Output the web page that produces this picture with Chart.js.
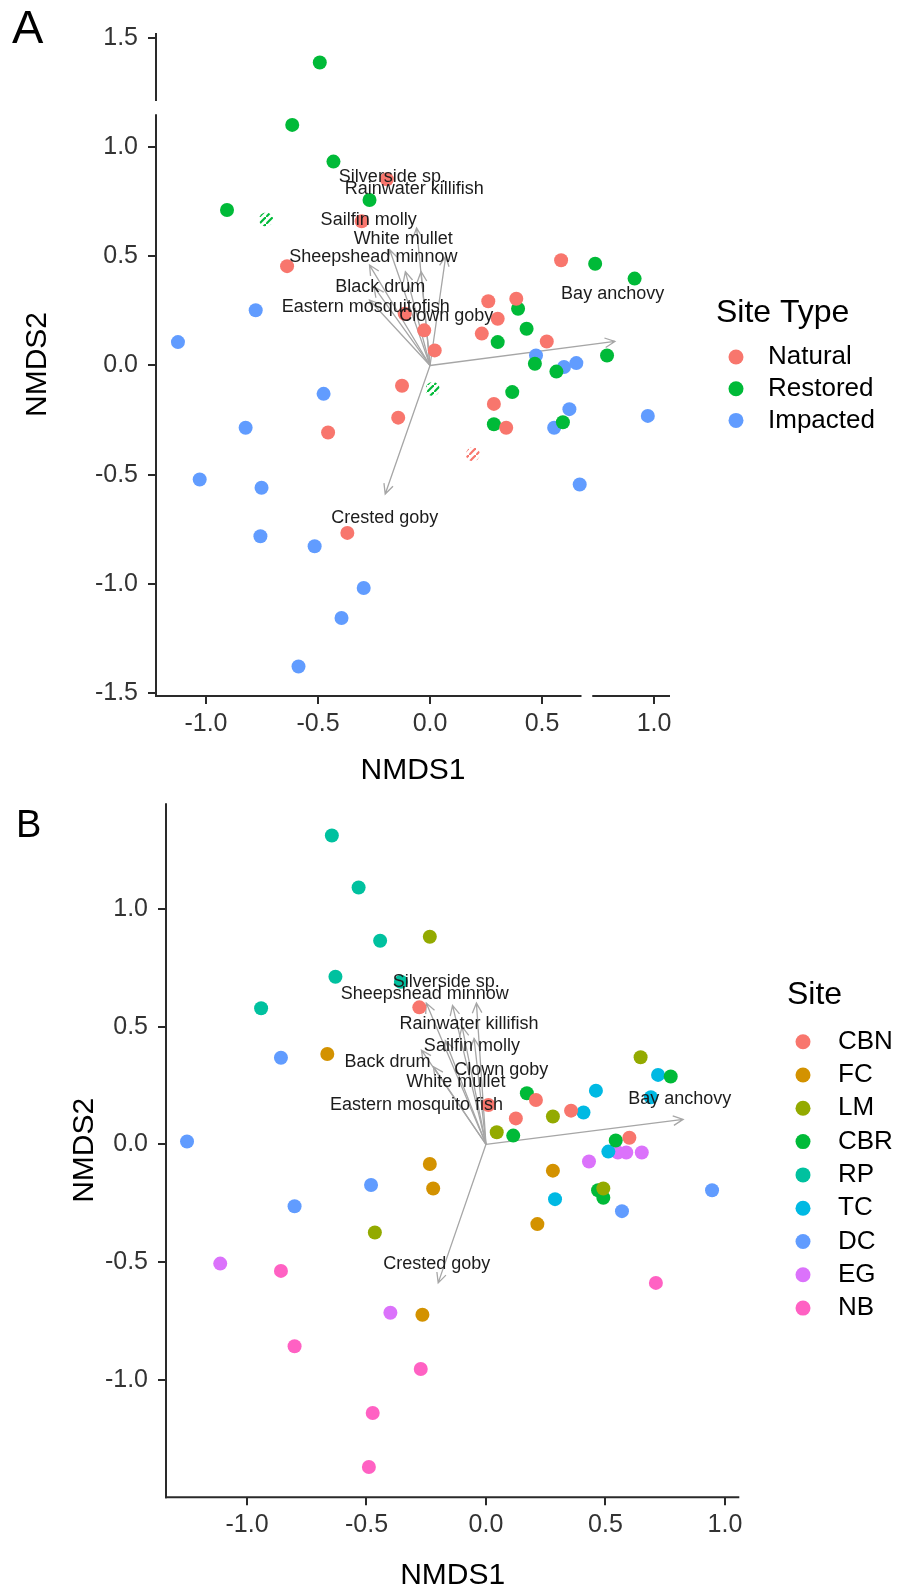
<!DOCTYPE html>
<html>
<head>
<meta charset="utf-8">
<script src="https://cdn.jsdelivr.net/npm/chart.js@4.4.1/dist/chart.umd.min.js"></script>
<style>
  html, body { margin: 0; padding: 0; background: #fff; }
  body { width: 908px; height: 1589px; position: relative; overflow: hidden; }
  canvas { position: absolute; left: 0; }
  #chartA { top: 0; }
  #chartB { top: 790px; }
</style>
</head>
<body>
<canvas id="chartA" width="908" height="790"></canvas>
<canvas id="chartB" width="908" height="799"></canvas>
<script>
// NMDS ordination of fish assemblages, two panels (A: site type, B: site)

const FONT = "'Liberation Sans', Arial, sans-serif";

// ---- Panel A: points by site type ----
const siteTypes = ['Natural', 'Restored', 'Impacted'];
const siteTypeColors = ['#F8766D', '#00BA38', '#619CFF'];

const naturalPts = [
  [-0.193, 0.853], [-0.305, 0.661], [-0.638, 0.455], [0.585, 0.482], [0.260, 0.294],
  [0.385, 0.306], [-0.113, 0.237], [0.302, 0.214], [-0.026, 0.161], [0.231, 0.146],
  [0.521, 0.110], [0.021, 0.069], [-0.125, -0.093], [0.285, -0.176], [-0.142, -0.239],
  [0.340, -0.285], [-0.455, -0.307], [0.191, -0.407], [-0.369, -0.767]
];
const restoredPts = [
  [-0.492, 1.388], [-0.615, 1.102], [-0.431, 0.934], [-0.270, 0.758], [-0.906, 0.712],
  [-0.732, 0.669], [0.737, 0.466], [0.913, 0.398], [0.393, 0.260], [0.431, 0.168],
  [0.302, 0.107], [0.790, 0.046], [0.468, 0.008], [0.564, -0.028], [0.012, -0.108],
  [0.367, -0.122], [0.285, -0.269], [0.593, -0.260]
];
const impactedPts = [
  [-0.778, 0.253], [-1.125, 0.107], [0.473, 0.046], [0.598, -0.007], [0.653, 0.011],
  [-0.475, -0.130], [0.622, -0.200], [0.972, -0.231], [-0.823, -0.285], [0.554, -0.285],
  [-1.028, -0.522], [-0.752, -0.560], [0.668, -0.545], [-0.757, -0.782], [-0.515, -0.828],
  [-0.296, -1.019], [-0.395, -1.157], [-0.587, -1.379]
];

const speciesA = ['Silverside sp.', 'Rainwater killifish', 'Sailfin molly', 'White mullet',
  'Sheepshead minnow', 'Black drum', 'Eastern mosquitofish', 'Clown goby', 'Bay anchovy', 'Crested goby'];
const vectorsA = [[-0.06, 0.63], [0.07, 0.50], [-0.18, 0.53], [-0.04, 0.43], [-0.27, 0.46],
  [-0.25, 0.36], [-0.27, 0.30], [-0.11, 0.43], [0.825, 0.11], [-0.20, -0.589]];
const labelPosA = [[-0.168, 0.863], [-0.070, 0.810], [-0.274, 0.664], [-0.120, 0.580], [-0.253, 0.496],
  [-0.222, 0.359], [-0.287, 0.270], [0.072, 0.225], [0.815, 0.328], [-0.202, -0.698]];

const xTicksA = [-1.0, -0.5, 0.0, 0.5, 1.0];
const yTicksA = [-1.5, -1.0, -0.5, 0.0, 0.5, 1.0, 1.5];

// ---- Panel B: points by site ----
const sites = ['CBN', 'FC', 'LM', 'CBR', 'RP', 'TC', 'DC', 'EG', 'NB'];
const siteColors = ['#F8766D', '#D39200', '#93AA00', '#00BA38', '#00C19F', '#00B9E3', '#619CFF', '#DB72FB', '#FF61C3'];

const cbnPts = [[-0.279, 0.582], [0.209, 0.188], [0.010, 0.167], [0.356, 0.143], [0.125, 0.110], [0.600, 0.028]];
const fcPts  = [[-0.664, 0.384], [-0.235, -0.084], [-0.221, -0.188], [0.280, -0.112], [0.215, -0.339], [-0.266, -0.724]];
const lmPts  = [[-0.235, 0.882], [0.647, 0.370], [0.280, 0.118], [0.045, 0.051], [0.491, -0.188], [-0.465, -0.375]];
const cbrPts = [[0.773, 0.288], [0.171, 0.217], [0.114, 0.037], [0.543, 0.016], [0.469, -0.195], [0.491, -0.227]];
const rpPts  = [[-0.645, 1.312], [-0.533, 1.091], [-0.443, 0.865], [-0.630, 0.712], [-0.356, 0.691], [-0.941, 0.578]];
const tcPts  = [[0.720, 0.295], [0.460, 0.228], [0.690, 0.200], [0.408, 0.135], [0.512, -0.031], [0.289, -0.233]];
const dcPts  = [[-0.858, 0.368], [-1.251, 0.012], [-0.481, -0.173], [-0.801, -0.263], [0.569, -0.284], [0.946, -0.195]];
const egPts  = [[0.552, -0.035], [0.587, -0.035], [0.652, -0.035], [0.431, -0.073], [-1.112, -0.507], [-0.400, -0.716]];
const nbPts  = [[-0.858, -0.538], [0.711, -0.589], [-0.801, -0.858], [-0.273, -0.955], [-0.474, -1.142], [-0.490, -1.371]];

const speciesB = ['Silverside sp.', 'Sheepshead minnow', 'Rainwater killifish', 'Sailfin molly',
  'Back drum', 'Clown goby', 'White mullet', 'Eastern mosquito fish', 'Bay anchovy', 'Crested goby'];
const vectorsB = [[-0.04, 0.60], [-0.25, 0.60], [-0.14, 0.59], [-0.10, 0.50], [-0.27, 0.40],
  [-0.05, 0.45], [-0.17, 0.44], [-0.22, 0.33], [0.825, 0.106], [-0.20, -0.589]];
const labelPosB = [[-0.166, 0.688], [-0.256, 0.639], [-0.071, 0.510], [-0.059, 0.418], [-0.412, 0.348],
  [0.064, 0.316], [-0.126, 0.266], [-0.291, 0.167], [0.811, 0.191], [-0.206, -0.507]];

const xTicksB = [-1.0, -0.5, 0.0, 0.5, 1.0];
const yTicksB = [-1.0, -0.5, 0.0, 0.5, 1.0];

const AXIS_COLOR = '#2a2a2a';
const ARROW_COLOR = '#a6a6a6';

// diagonal stripes, for the few half-erased points of panel A
function stripes(color) {
  const c = document.createElement('canvas');
  c.width = 7; c.height = 7;
  const g = c.getContext('2d');
  g.strokeStyle = color;
  g.lineWidth = 2.2;
  g.beginPath();
  g.moveTo(-1, 8); g.lineTo(8, -1);
  g.stroke();
  return g.createPattern(c, 'repeat');
}

// arrows from the origin to each species vector
function arrowPlugin(cfg) {
  return {
    id: 'arrows',
    beforeDatasetsDraw(chart) {
      const { ctx, scales: { x, y } } = chart;
      const x0 = x.getPixelForValue(0), y0 = y.getPixelForValue(0);
      ctx.save();
      ctx.strokeStyle = ARROW_COLOR;
      ctx.lineWidth = 1.3;
      cfg.vectors.forEach(v => {
        const x1 = x.getPixelForValue(v[0]), y1 = y.getPixelForValue(v[1]);
        const a = Math.atan2(y1 - y0, x1 - x0);
        const h = 11, s = 0.45;
        ctx.beginPath();
        ctx.moveTo(x0, y0);
        ctx.lineTo(x1, y1);
        ctx.moveTo(x1 - h * Math.cos(a - s), y1 - h * Math.sin(a - s));
        ctx.lineTo(x1, y1);
        ctx.lineTo(x1 - h * Math.cos(a + s), y1 - h * Math.sin(a + s));
        ctx.stroke();
      });
      ctx.restore();
    }
  };
}

// species names
function labelPlugin(cfg) {
  return {
    id: 'speciesLabels',
    afterDatasetsDraw(chart) {
      const { ctx, scales: { x, y } } = chart;
      ctx.save();
      ctx.font = '18px ' + FONT;
      ctx.fillStyle = '#1c1c1c';
      ctx.textAlign = 'center';
      ctx.textBaseline = 'middle';
      cfg.species.forEach((name, i) => {
        const p = cfg.labelPos[i];
        ctx.fillText(name, x.getPixelForValue(p[0]), y.getPixelForValue(p[1]));
      });
      ctx.restore();
    }
  };
}

// classic-theme axis lines (panel A has small gaps in both)
function axisLinePlugin(cfg) {
  return {
    id: 'axisLines',
    afterDraw(chart) {
      const { ctx, chartArea: { left, right, top, bottom }, scales: { x, y } } = chart;
      ctx.save();
      ctx.strokeStyle = AXIS_COLOR;
      ctx.lineWidth = 2;
      const seg = (ax, ay, bx, by) => { ctx.beginPath(); ctx.moveTo(ax, ay); ctx.lineTo(bx, by); ctx.stroke(); };
      if (cfg.yGap) {
        seg(left, bottom + 1, left, y.getPixelForValue(cfg.yGap[0]));
        seg(left, y.getPixelForValue(cfg.yGap[1]), left, top);
      } else {
        seg(left, bottom + 1, left, top);
      }
      if (cfg.xGap) {
        seg(left - 1, bottom, x.getPixelForValue(cfg.xGap[0]), bottom);
        seg(x.getPixelForValue(cfg.xGap[1]), bottom, right, bottom);
      } else {
        seg(left - 1, bottom, right, bottom);
      }
      // panel letter
      ctx.fillStyle = '#000';
      ctx.textAlign = 'left';
      ctx.textBaseline = 'alphabetic';
      ctx.font = cfg.letter.size + 'px ' + FONT;
      ctx.fillText(cfg.letter.text, cfg.letter.x, cfg.letter.y);
      ctx.restore();
    }
  };
}

function legendPlugin(cfg) {
  return {
    id: 'sideLegend',
    afterDraw(chart) {
      const { ctx } = chart;
      const L = cfg.legend;
      ctx.save();
      ctx.textAlign = 'left';
      ctx.textBaseline = 'middle';
      ctx.fillStyle = '#000';
      ctx.font = '32px ' + FONT;
      ctx.fillText(L.title, L.titleX, L.titleY);
      ctx.font = '26px ' + FONT;
      cfg.groups.forEach((g, i) => {
        const yy = L.itemY + i * L.step;
        ctx.fillStyle = cfg.colors[i];
        ctx.beginPath();
        ctx.arc(L.dotX, yy, 7.5, 0, Math.PI * 2);
        ctx.fill();
        ctx.fillStyle = '#000';
        ctx.fillText(g, L.textX, yy);
      });
      ctx.restore();
    }
  };
}

function makePanel(canvasId, cfg) {
  const ctx = document.getElementById(canvasId).getContext('2d');
  const tickFont = { family: FONT, size: 25 };
  const titleFont = { family: FONT, size: 30, lineHeight: 0.8 };
  const noPad = s => { s.paddingTop = 0; s.paddingBottom = 0; s.paddingLeft = 0; s.paddingRight = 0; };
  const hatched = cfg.hatched || {};
  return new Chart(ctx, {
    type: 'scatter',
    data: {
      datasets: cfg.groups.map((g, i) => {
        const fill = cfg.colors[i];
        const pat = hatched[i] ? stripes(fill) : null;
        return {
          label: g,
          data: cfg.points[i].map(p => ({ x: p[0], y: p[1] })),
          backgroundColor: cfg.points[i].map((p, j) => (hatched[i] && hatched[i].includes(j)) ? pat : fill),
          borderWidth: 0,
          pointRadius: 7,
          pointHoverRadius: 7
        };
      })
    },
    options: {
      responsive: false,
      animation: false,
      events: [],
      layout: { padding: cfg.padding },
      plugins: { legend: { display: false }, tooltip: { enabled: false } },
      scales: {
        x: {
          type: 'linear',
          min: cfg.xRange[0], max: cfg.xRange[1],
          afterBuildTicks: s => { s.ticks = cfg.xTicks.map(v => ({ value: v })); },
          afterFit: s => { s.height = cfg.xAxisHeight; noPad(s); },
          grid: { drawOnChartArea: false, drawTicks: true, tickLength: 8, color: AXIS_COLOR, lineWidth: 2 },
          border: { display: false },
          ticks: { padding: 5, color: '#333', font: tickFont, autoSkip: false, maxRotation: 0,
                   callback: v => Number(v).toFixed(1) },
          title: { display: true, text: 'NMDS1', color: '#000', font: titleFont, padding: { top: 0, bottom: cfg.xTitlePad } }
        },
        y: {
          type: 'linear',
          min: cfg.yRange[0], max: cfg.yRange[1],
          afterBuildTicks: s => { s.ticks = cfg.yTicks.map(v => ({ value: v })); },
          afterFit: s => { s.width = cfg.yAxisWidth; noPad(s); },
          grid: { drawOnChartArea: false, drawTicks: true, tickLength: 8, color: AXIS_COLOR, lineWidth: 2 },
          border: { display: false },
          ticks: { padding: 10, color: '#333', font: tickFont, autoSkip: false,
                   callback: v => Number(v).toFixed(1) },
          title: { display: true, text: 'NMDS2', color: '#000', font: titleFont, padding: { top: cfg.yTitlePad, bottom: 0 } }
        }
      }
    },
    plugins: [arrowPlugin(cfg), labelPlugin(cfg), axisLinePlugin(cfg), legendPlugin(cfg)]
  });
}

makePanel('chartA', {
  groups: siteTypes,
  colors: siteTypeColors,
  points: [naturalPts, restoredPts, impactedPts],
  hatched: { 0: [17], 1: [5, 14] },
  species: speciesA, vectors: vectorsA, labelPos: labelPosA,
  xTicks: xTicksA, yTicks: yTicksA,
  xRange: [-1.223, 1.071], yRange: [-1.514, 1.523],
  padding: { left: 0, top: 33, right: 238, bottom: 0 },
  yAxisWidth: 156, xAxisHeight: 94,
  xTitlePad: 7, yTitlePad: 26,
  yGap: [1.151, 1.211], xGap: [0.676, 0.724],
  letter: { text: 'A', size: 47, x: 12, y: 43 },
  legend: { title: 'Site Type', titleX: 716, titleY: 313, dotX: 736, textX: 768, itemY: 357, step: 31.7 }
});

makePanel('chartB', {
  groups: sites,
  colors: siteColors,
  points: [cbnPts, fcPts, lmPts, cbrPts, rpPts, tcPts, dcPts, egPts, nbPts],
  species: speciesB, vectors: vectorsB, labelPos: labelPosB,
  xTicks: xTicksB, yTicks: yTicksB,
  xRange: [-1.339, 1.06], yRange: [-1.50, 1.449],
  padding: { left: 0, top: 13.3, right: 168.7, bottom: 0 },
  yAxisWidth: 166, xAxisHeight: 91.7,
  xTitlePad: 1, yTitlePad: 73,
  letter: { text: 'B', size: 38, x: 16, y: 47 },
  legend: { title: 'Site', titleX: 787, titleY: 205, dotX: 803, textX: 838, itemY: 251.7, step: 33.3 }
});
</script>
</body>
</html>
